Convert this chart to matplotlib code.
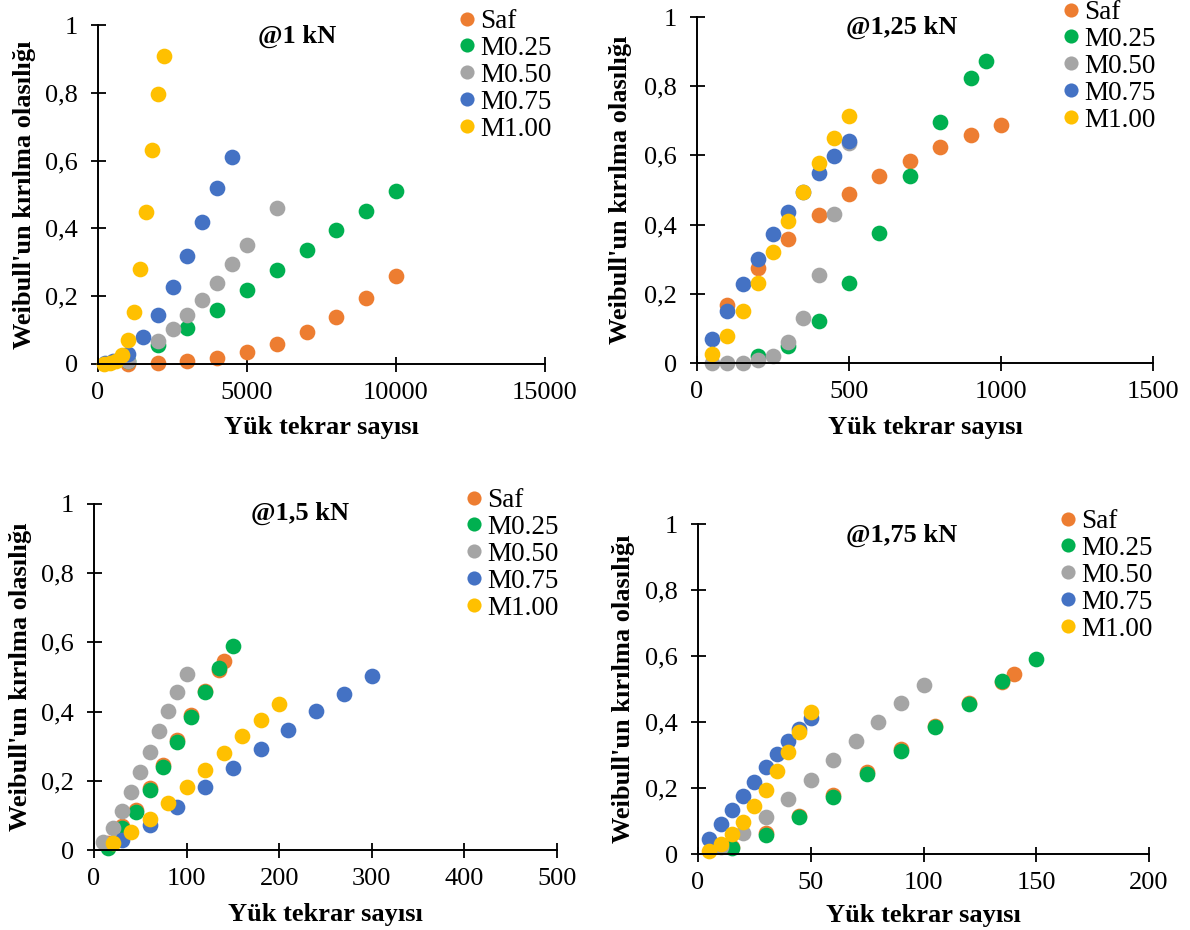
import matplotlib
matplotlib.use("Agg")
import matplotlib.pyplot as plt
from matplotlib.ticker import FuncFormatter

plt.rcParams['font.family'] = ['Liberation Serif', 'DejaVu Serif']

series_names = ["Saf", "M0.25", "M0.50", "M0.75", "M1.00"]
colors = ["#ED7D31", "#00B050", "#A5A5A5", "#4472C4", "#FFC000"]

# ---- @1 kN ----
p1_saf_x = [1000, 2000, 3000, 4000, 5000, 6000, 7000, 8000, 9000, 10000]
p1_saf_y = [0.0, 0.003, 0.008, 0.017, 0.035, 0.06, 0.094, 0.138, 0.195, 0.26]
p1_m025_x = [1000, 2000, 3000, 4000, 5000, 6000, 7000, 8000, 9000, 10000]
p1_m025_y = [0.01, 0.055, 0.106, 0.16, 0.217, 0.276, 0.336, 0.396, 0.452, 0.509]
p1_m050_x = [1000, 2000, 2500, 3000, 3500, 4000, 4500, 5000, 6000]
p1_m050_y = [0.01, 0.068, 0.103, 0.144, 0.19, 0.24, 0.295, 0.35, 0.46]
p1_m075_x = [250, 500, 1000, 1500, 2000, 2500, 3000, 3500, 4000, 4500]
p1_m075_y = [0.002, 0.008, 0.03, 0.081, 0.144, 0.226, 0.318, 0.418, 0.518, 0.612]
p1_m100_x = [200, 400, 600, 800, 1000, 1200, 1400, 1600, 1800, 2000, 2200]
p1_m100_y = [0.001, 0.003, 0.008, 0.027, 0.072, 0.154, 0.281, 0.447, 0.631, 0.795, 0.91]

# ---- @1,25 kN ----
p2_saf_x = [100, 200, 300, 400, 500, 600, 700, 800, 900, 1000]
p2_saf_y = [0.169, 0.275, 0.359, 0.429, 0.488, 0.54, 0.584, 0.624, 0.658, 0.689]
p2_m025_x = [200, 300, 400, 500, 600, 700, 800, 900, 950]
p2_m025_y = [0.019, 0.048, 0.12, 0.231, 0.376, 0.54, 0.697, 0.825, 0.874]
p2_m050_x = [50, 100, 150, 200, 250, 300, 350, 400, 450, 500]
p2_m050_y = [0.0, 0.0, 0.0, 0.008, 0.021, 0.06, 0.13, 0.253, 0.432, 0.636]
p2_m075_x = [50, 100, 150, 200, 250, 300, 350, 400, 450, 500]
p2_m075_y = [0.07, 0.149, 0.229, 0.302, 0.372, 0.437, 0.493, 0.548, 0.598, 0.643]
p2_m100_x = [50, 100, 150, 200, 250, 300, 350, 400, 450, 500]
p2_m100_y = [0.027, 0.079, 0.149, 0.232, 0.321, 0.41, 0.495, 0.577, 0.65, 0.715]

# ---- @1,5 kN ----
p3_saf_x = [15, 30, 45, 60, 75, 90, 105, 120, 135, 140]
p3_saf_y = [0.02, 0.068, 0.116, 0.178, 0.245, 0.318, 0.39, 0.46, 0.52, 0.545]
p3_m025_x = [15, 30, 45, 60, 75, 90, 105, 120, 135, 150]
p3_m025_y = [0.005, 0.063, 0.111, 0.172, 0.239, 0.312, 0.385, 0.457, 0.525, 0.591]
p3_m050_x = [10, 20, 30, 40, 50, 60, 70, 80, 90, 100]
p3_m050_y = [0.023, 0.065, 0.113, 0.167, 0.225, 0.284, 0.343, 0.401, 0.457, 0.51]
p3_m075_x = [30, 60, 90, 120, 150, 180, 210, 240, 270, 300]
p3_m075_y = [0.029, 0.071, 0.124, 0.182, 0.237, 0.292, 0.347, 0.402, 0.452, 0.502]
p3_m100_x = [20, 40, 60, 80, 100, 120, 140, 160, 180, 200]
p3_m100_y = [0.02, 0.053, 0.091, 0.136, 0.183, 0.23, 0.28, 0.329, 0.376, 0.423]

# ---- @1,75 kN ----
p4_saf_x = [15, 30, 45, 60, 75, 90, 105, 120, 135, 140]
p4_saf_y = [0.02, 0.063, 0.116, 0.178, 0.248, 0.318, 0.388, 0.458, 0.522, 0.545]
p4_m025_x = [15, 30, 45, 60, 75, 90, 105, 120, 135, 150]
p4_m025_y = [0.018, 0.058, 0.111, 0.173, 0.243, 0.313, 0.384, 0.456, 0.525, 0.59]
p4_m050_x = [10, 20, 30, 40, 50, 60, 70, 80, 90, 100]
p4_m050_y = [0.02, 0.064, 0.112, 0.167, 0.225, 0.284, 0.343, 0.4, 0.457, 0.511]
p4_m075_x = [5, 10, 15, 20, 25, 30, 35, 40, 45, 50]
p4_m075_y = [0.046, 0.09, 0.132, 0.176, 0.219, 0.263, 0.302, 0.343, 0.379, 0.412]
p4_m100_x = [5, 10, 15, 20, 25, 30, 35, 40, 45, 50]
p4_m100_y = [0.01, 0.03, 0.062, 0.098, 0.144, 0.195, 0.252, 0.308, 0.369, 0.429]

titles = ["@1 kN", "@1,25 kN", "@1,5 kN", "@1,75 kN"]
x_max = [15000, 1500, 500, 200]
x_step = [5000, 500, 100, 50]
y_ticks = [0, 0.2, 0.4, 0.6, 0.8, 1.0]
xlabel = "Yük tekrar sayısı"
ylabel = "Weibull'un kırılma olasılığı"

panels = [
    [(p1_saf_x, p1_saf_y), (p1_m025_x, p1_m025_y), (p1_m050_x, p1_m050_y), (p1_m075_x, p1_m075_y), (p1_m100_x, p1_m100_y)],
    [(p2_saf_x, p2_saf_y), (p2_m025_x, p2_m025_y), (p2_m050_x, p2_m050_y), (p2_m075_x, p2_m075_y), (p2_m100_x, p2_m100_y)],
    [(p3_saf_x, p3_saf_y), (p3_m025_x, p3_m025_y), (p3_m050_x, p3_m050_y), (p3_m075_x, p3_m075_y), (p3_m100_x, p3_m100_y)],
    [(p4_saf_x, p4_saf_y), (p4_m025_x, p4_m025_y), (p4_m050_x, p4_m050_y), (p4_m075_x, p4_m075_y), (p4_m100_x, p4_m100_y)],
]

W, H = 1190, 930
fig = plt.figure(figsize=(W / 100, H / 100), dpi=100)

# axes boxes in pixels: left, right, bottom(y from top), top(y from top)
boxes = [(98, 545, 364, 25), (697, 1153, 363, 17), (94, 557, 850, 504), (698, 1149, 854, 524)]
title_pos = [(0.445, 0.966), (0.449, 0.970), (0.445, 0.972), (0.452, 0.965)]
ylabel_x = [-0.165, -0.167, -0.158, -0.165]
legend_pos = [(460, 9), (1064, 0), (467, 488), (1061, 509)]

FS = 19

def yfmt(v, pos):
    if abs(v) < 1e-9:
        return "0"
    if abs(v - 1) < 1e-9:
        return "1"
    return ("%.1f" % v).replace(".", ",")

for i, (l, r, b, t) in enumerate(boxes):
    ax = fig.add_axes([l / W, 1 - b / H, (r - l) / W, (b - t) / H])
    for (xs, ys), name, c in zip(panels[i], series_names, colors):
        ax.plot(xs, ys, linestyle="none", marker="o", markersize=11.3,
                markeredgewidth=0, color=c, label=name, clip_on=False)
    ax.set_xlim(0, x_max[i])
    ax.set_ylim(0, 1)
    ax.set_xticks(list(range(0, x_max[i] + 1, x_step[i])))
    ax.set_yticks(y_ticks)
    ax.yaxis.set_major_formatter(FuncFormatter(yfmt))
    for s in ["top", "right"]:
        ax.spines[s].set_visible(False)
    for s in ["left", "bottom"]:
        ax.spines[s].set_linewidth(1.4)
        ax.spines[s].set_color("black")
    ax.tick_params(axis="both", direction="inout", length=10.8, width=1.3,
                   labelsize=FS, colors="black")
    ax.tick_params(axis="x", pad=7.5)
    ax.tick_params(axis="y", pad=9)
    ax.set_xlabel(xlabel, fontsize=FS, fontweight="bold")
    ax.set_ylabel(ylabel, fontsize=FS, fontweight="bold")
    ax.xaxis.set_label_coords(0.5, -0.186)
    ax.xaxis.label.set_va("center")
    ax.yaxis.set_label_coords(ylabel_x[i], 0.5)
    ax.yaxis.label.set_va("center")
    ax.text(title_pos[i][0], title_pos[i][1], titles[i], transform=ax.transAxes,
            ha="center", va="center", fontsize=FS, fontweight="bold")
    lx, ly = legend_pos[i]
    ax.legend(loc="upper left", bbox_to_anchor=(lx / W, 1 - ly / H),
              bbox_transform=fig.transFigure, frameon=False, fontsize=FS + 0.5,
              borderpad=0, borderaxespad=0, handlelength=0.5, handletextpad=0.24,
              labelspacing=0.07, markerscale=0.9)

fig.savefig("out.png", dpi=100)
